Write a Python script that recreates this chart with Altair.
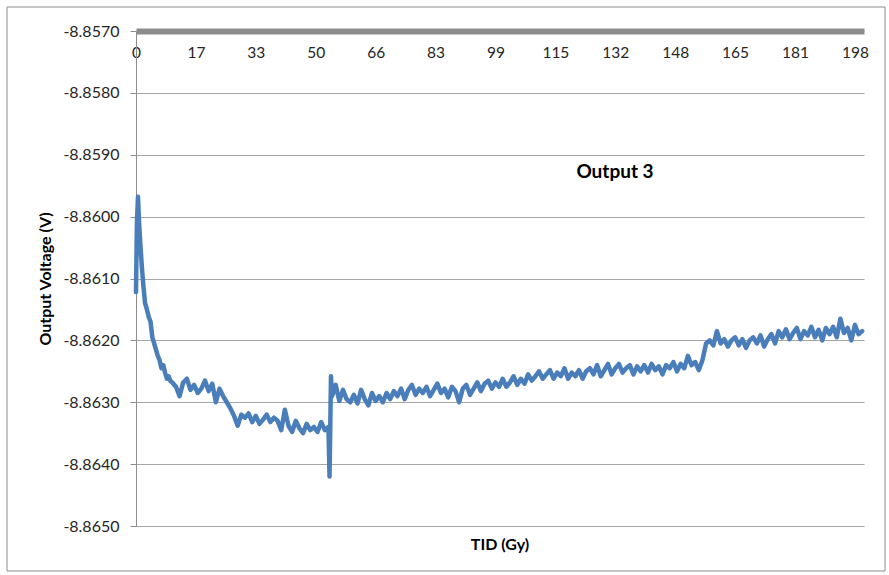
import altair as alt
import pandas as pd

# ---- data ----
early_x = [0, 0.25, 0.55, 0.85, 1.2, 1.6, 2.0, 2.5, 3.0, 3.5, 4.0, 4.5,
           5.0, 5.5, 6.0, 6.5, 7.0, 7.5, 8.0, 8.5, 9.0, 9.5]
early_y = [-8.86122, -8.86010, -8.85968, -8.86010, -8.86045, -8.86080,
           -8.86110, -8.86140, -8.86150, -8.86162, -8.86170, -8.86195,
           -8.86205, -8.86215, -8.86225, -8.86232, -8.86245, -8.86240,
           -8.86252, -8.86262, -8.86258, -8.86266]

dip_x = [53.3, 53.7]
dip_y = [-8.86420, -8.86258]

main_start = 10
main_y = [
    -8.86268, -8.86275, -8.86290, -8.86268, -8.86262, -8.86280, -8.86272, -8.86285, -8.86278, -8.86265,
    -8.86282, -8.86270, -8.86300, -8.86278, -8.86290, -8.86300, -8.86310, -8.86322, -8.86338, -8.86320,
    -8.86325, -8.86318, -8.86332, -8.86322, -8.86335, -8.86328, -8.86320, -8.86332, -8.86325, -8.86330,
    -8.86345, -8.86312, -8.86338, -8.86348, -8.86330, -8.86342, -8.86350, -8.86335, -8.86345, -8.86340,
    -8.86348, -8.86332, -8.86345, -8.86340, -8.86290, -8.86272, -8.86298, -8.86280, -8.86295, -8.86300,
    -8.86288, -8.86302, -8.86280, -8.86295, -8.86305, -8.86285, -8.86298, -8.86290, -8.86300, -8.86285,
    -8.86295, -8.86282, -8.86290, -8.86278, -8.86295, -8.86280, -8.86272, -8.86288, -8.86278, -8.86285,
    -8.86275, -8.86290, -8.86280, -8.86270, -8.86285, -8.86278, -8.86292, -8.86275, -8.86282, -8.86300,
    -8.86278, -8.86272, -8.86288, -8.86278, -8.86268, -8.86282, -8.86270, -8.86265, -8.86278, -8.86268,
    -8.86275, -8.86262, -8.86275, -8.86268, -8.86258, -8.86272, -8.86262, -8.86270, -8.86255, -8.86265,
    -8.86258, -8.86250, -8.86262, -8.86255, -8.86248, -8.86262, -8.86252, -8.86258, -8.86245, -8.86262,
    -8.86252, -8.86258, -8.86248, -8.86262, -8.86250, -8.86245, -8.86255, -8.86240, -8.86258, -8.86248,
    -8.86238, -8.86255, -8.86245, -8.86238, -8.86252, -8.86245, -8.86240, -8.86255, -8.86242, -8.86250,
    -8.86240, -8.86252, -8.86238, -8.86248, -8.86242, -8.86255, -8.86240, -8.86245, -8.86235, -8.86250,
    -8.86238, -8.86245, -8.86225, -8.86240, -8.86235, -8.86248, -8.86232, -8.86205, -8.86200, -8.86208,
    -8.86185, -8.86205, -8.86198, -8.86210, -8.86200, -8.86195, -8.86208, -8.86198, -8.86212, -8.86200,
    -8.86195, -8.86205, -8.86192, -8.86210, -8.86198, -8.86190, -8.86205, -8.86185, -8.86195, -8.86182,
    -8.86198, -8.86188, -8.86180, -8.86198, -8.86185, -8.86192, -8.86178, -8.86195, -8.86183, -8.86200,
    -8.86180, -8.86190, -8.86178, -8.86195, -8.86165, -8.86188, -8.86180, -8.86200, -8.86175, -8.86190,
    -8.86185,
]
main_x = list(range(main_start, main_start + len(main_y)))

x_ticks = [0, 16.5, 33, 49.5, 66, 82.5, 99, 115.5, 132, 148.5, 165, 181.5, 198]
x_tick_labels = ["0", "17", "33", "50", "66", "83", "99", "115", "132", "148", "165", "181", "198"]
y_ticks = [-8.8650, -8.8640, -8.8630, -8.8620, -8.8610, -8.8600, -8.8590, -8.8580, -8.8570]

series_label = "Output 3"
x_title = "TID (Gy)"
y_title = "Output Voltage (V)"

df = pd.DataFrame({
    "tid": early_x + main_x + dip_x,
    "v": early_y + main_y + dip_y,
}).sort_values("tid")

FONT = "Lato"
W, H = 728, 495

label_arr = "[" + ",".join("'" + s + "'" for s in x_tick_labels) + "]"

line = alt.Chart(df).mark_line(
    color="#4a7ebb", strokeWidth=4.5, strokeJoin="round", strokeCap="round"
).encode(
    x=alt.X("tid:Q",
            scale=alt.Scale(domain=[0, 200.5], nice=False, zero=False),
            axis=alt.Axis(orient="bottom", offset=-H, values=x_ticks,
                          labelExpr=label_arr + "[round(datum.value/16.5)]",
                          ticks=False, grid=False, domainColor="#8c8c8c",
                          domainWidth=6, labelPadding=14, labelFont=FONT,
                          labelFontSize=15.5, labelColor="#262626", title=None,
                          labelFlush=False, labelOverlap=False)),
    y=alt.Y("v:Q",
            scale=alt.Scale(domain=[-8.8650, -8.8570], nice=False, zero=False),
            axis=alt.Axis(values=y_ticks,
                          labelExpr="'-' + format(abs(datum.value), '.4f')",
                          grid=True, gridColor="#a6a6a6", gridWidth=1,
                          domainColor="#8c8c8c", tickColor="#8c8c8c",
                          tickSize=6, labelPadding=11, labelFont=FONT,
                          labelFontSize=16, labelColor="#262626",
                          title=y_title, titleFont=FONT, titleFontSize=16,
                          titleFontWeight="bold", titleColor="#000000",
                          titlePadding=9, labelFlush=False,
                          labelOverlap=False)),
)

one = pd.DataFrame({"a": [0]})

border = alt.Chart(one).mark_rect(
    fillOpacity=0, stroke="#8c8c8c", strokeWidth=1
).encode(x=alt.value(-129), x2=alt.value(749), y=alt.value(-24), y2=alt.value(540))

label_txt = alt.Chart(pd.DataFrame({"t": [series_label]})).mark_text(
    font=FONT, fontSize=19, fontWeight="bold", color="#000000", align="center",
    baseline="middle"
).encode(x=alt.value(479), y=alt.value(141), text="t:N")

xtitle_txt = alt.Chart(pd.DataFrame({"t": [x_title]})).mark_text(
    font=FONT, fontSize=16, fontWeight="bold", color="#000000", align="center",
    baseline="middle"
).encode(x=alt.value(W / 2), y=alt.value(514), text="t:N")

chart = alt.layer(border, line, label_txt, xtitle_txt).properties(
    width=W, height=H,
    padding={"left": 136, "top": 31, "right": 25, "bottom": 49},
    autosize=alt.AutoSizeParams(type="none"),
    background="white",
).configure_view(stroke=None)

chart.save("out.html", embed_options={"renderer": "svg", "actions": False})
